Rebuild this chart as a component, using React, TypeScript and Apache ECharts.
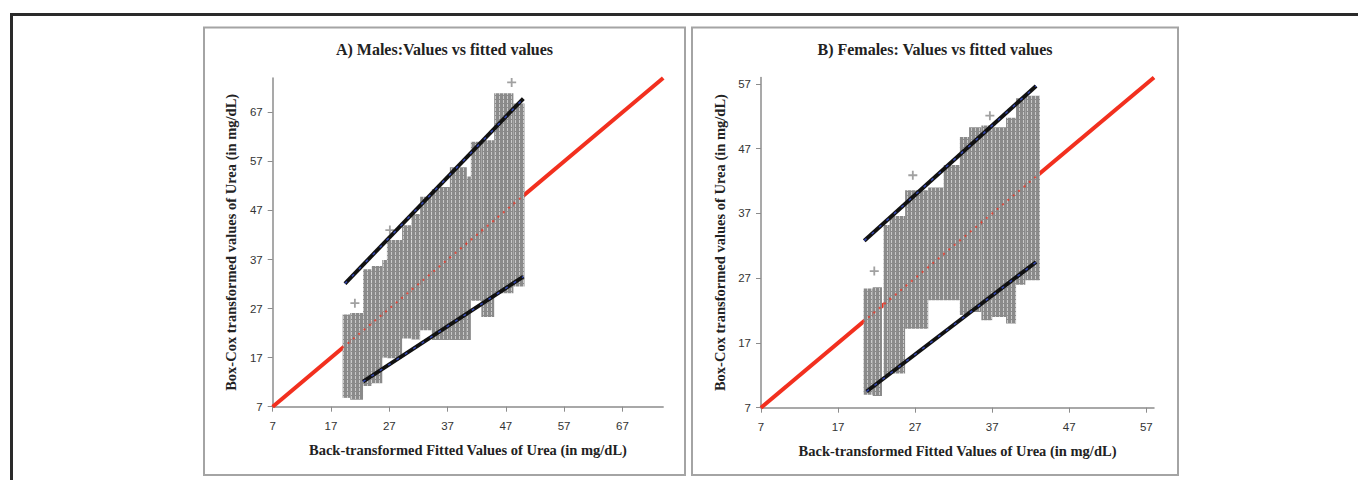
import React, { useEffect, useRef } from "react";
import * as echarts from "echarts";

// ---------- data ----------
const maleTitle = "A) Males:Values vs fitted values";
const femaleTitle = "B) Females: Values vs fitted values";
const xName = "Back-transformed Fitted Values of Urea (in mg/dL)";
const yName = "Box-Cox transformed values of Urea (in mg/dL)";

const maleTicks = [7, 17, 27, 37, 47, 57, 67];
const femaleTicks = [7, 17, 27, 37, 47, 57];
const axisMin = 7;
const maleAxisMax = 74;
const femaleAxisMax = 58;

// identity line y = x
const maleIdentity = [[7, 7], [74, 74]];
const femaleIdentity = [[7, 7], [58, 58]];

// observed-value columns: [fitted from, fitted to, lowest value, highest value]
const maleColumns = [
  [19.0, 20.3, 8.8, 25.8],
  [20.3, 22.5, 8.4, 26.1],
  [22.5, 24.0, 11.2, 35.0],
  [24.0, 25.8, 11.8, 35.7],
  [25.8, 26.6, 17.0, 36.9],
  [26.6, 29.2, 16.9, 41.0],
  [29.2, 30.8, 20.9, 44.0],
  [30.8, 32.3, 20.7, 46.3],
  [32.3, 34.3, 22.6, 49.8],
  [34.3, 35.7, 20.6, 51.3],
  [35.7, 37.4, 20.6, 51.8],
  [37.4, 40.3, 20.6, 55.8],
  [40.3, 41.0, 20.6, 53.9],
  [41.0, 42.8, 28.6, 61.0],
  [42.8, 45.0, 25.3, 61.3],
  [45.0, 48.3, 30.1, 70.9],
  [48.3, 50.2, 31.5, 68.8],
];
const femaleColumns = [
  [20.3, 21.5, 9.0, 25.4],
  [21.5, 22.7, 8.8, 25.6],
  [22.9, 23.7, 12.0, 35.2],
  [23.7, 25.7, 12.3, 36.6],
  [25.7, 28.7, 19.2, 40.6],
  [28.7, 30.7, 23.6, 41.0],
  [30.7, 32.8, 23.6, 44.5],
  [32.8, 34.0, 21.3, 48.8],
  [34.0, 35.6, 21.8, 50.3],
  [35.6, 37.0, 20.5, 50.6],
  [37.0, 38.8, 21.0, 50.3],
  [38.8, 40.1, 20.0, 51.8],
  [40.1, 41.3, 26.0, 54.8],
  [41.3, 43.2, 26.7, 55.2],
];

// prediction bounds
const maleUpper = [[19.4, 32.1], [50.0, 69.8]];
const maleLower = [[22.5, 12.1], [50.0, 33.5]];
const femaleUpper = [[20.4, 32.8], [42.7, 56.7]];
const femaleLower = [[20.7, 9.5], [42.7, 29.5]];

// isolated points
const maleOutliers = [[21.1, 28.1], [27.1, 43.0], [48.0, 73.1]];
const femaleOutliers = [[21.7, 28.1], [26.7, 42.9], [36.7, 52.1]];

// ---------- styling ----------
const GRAY = "#8a8a8a";
const RED = "#f2301f";
const AXIS = "#8c8c8c";
const PLUS =
  "path://M4,0 L6,0 L6,4 L10,4 L10,6 L6,6 L6,10 L4,10 L4,6 L0,6 L0,4 L4,4 Z";

function xAxisCfg(gridIndex: number, max: number, ticks: number[]) {
  return {
    type: "value",
    gridIndex,
    min: axisMin,
    max,
    name: xName,
    nameLocation: "middle",
    nameGap: 36,
    nameTextStyle: {
      fontFamily: "Liberation Serif",
      fontWeight: "bold",
      fontSize: 14.5,
      color: "#222",
    },
    axisLine: { show: true, onZero: false, lineStyle: { color: AXIS, width: 1.5 } },
    axisTick: {
      show: true,
      length: 5,
      customValues: ticks,
      lineStyle: { color: AXIS, width: 1 },
    },
    axisLabel: {
      customValues: ticks,
      margin: 13,
      fontSize: 11.5,
      fontFamily: "Liberation Sans",
      color: "#333",
    },
    splitLine: { show: false },
  };
}

function yAxisCfg(gridIndex: number, max: number, ticks: number[]) {
  return {
    type: "value",
    gridIndex,
    min: axisMin,
    max,
    name: yName,
    nameLocation: "middle",
    nameGap: 34,
    nameTextStyle: {
      fontFamily: "Liberation Serif",
      fontWeight: "bold",
      fontSize: 14.5,
      color: "#222",
    },
    axisLine: { show: true, onZero: false, lineStyle: { color: AXIS, width: 1.5 } },
    axisTick: {
      show: true,
      length: 5,
      customValues: ticks,
      lineStyle: { color: AXIS, width: 1 },
    },
    axisLabel: {
      customValues: ticks,
      margin: 10,
      fontSize: 11.5,
      fontFamily: "Liberation Sans",
      color: "#333",
    },
    splitLine: { show: false },
  };
}

function panelSeries(
  idx: number,
  identity: number[][],
  columns: number[][],
  upper: number[][],
  lower: number[][],
  outliers: number[][],
  fill: any
) {
  const common = { xAxisIndex: idx, yAxisIndex: idx, silent: true };
  const boundLine = (data: number[][]) => [
    {
      ...common,
      type: "line",
      data,
      symbol: "none",
      z: 5,
      lineStyle: { color: "#111", width: 4 },
    },
    {
      ...common,
      type: "line",
      data,
      symbol: "none",
      z: 6,
      lineStyle: { color: "#3346b0", width: 1.5, type: [3, 7] },
    },
  ];
  return [
    {
      ...common,
      type: "line",
      data: identity,
      symbol: "none",
      z: 1,
      lineStyle: { color: RED, width: 4 },
    },
    {
      ...common,
      type: "custom",
      z: 2,
      data: columns,
      encode: { x: [0, 1], y: [2, 3] },
      renderItem: (params: any, api: any) => {
        const p0 = api.coord([api.value(0), api.value(3)]);
        const p1 = api.coord([api.value(1), api.value(2)]);
        return {
          type: "rect",
          shape: { x: p0[0], y: p0[1], width: p1[0] - p0[0], height: p1[1] - p0[1] },
          style: { fill },
        };
      },
    },
    {
      ...common,
      type: "line",
      data: identity,
      symbol: "none",
      z: 3,
      lineStyle: { color: RED, width: 2, type: [2, 5], opacity: 0.75 },
    },
    {
      ...common,
      type: "scatter",
      data: outliers,
      symbol: PLUS,
      symbolSize: 9,
      z: 4,
      itemStyle: { color: GRAY },
    },
    ...boundLine(upper),
    ...boundLine(lower),
  ];
}

function makeTexture(): any {
  try {
    const c = document.createElement("canvas");
    c.width = 4;
    c.height = 4;
    const ctx = c.getContext("2d");
    if (!ctx) return GRAY;
    ctx.fillStyle = GRAY;
    ctx.fillRect(0, 0, 4, 4);
    ctx.fillStyle = "#c9c9c9";
    ctx.fillRect(3, 0, 1, 3);
    return { image: c, repeat: "repeat" };
  } catch (e) {
    return GRAY;
  }
}

export default function App() {
  const ref = useRef<HTMLDivElement>(null);

  useEffect(() => {
    if (!ref.current) return;
    const chart = echarts.init(ref.current, null, { renderer: "svg" });
    const fill = makeTexture();
    const titleStyle = {
      fontFamily: "Liberation Serif",
      fontWeight: "bold",
      fontSize: 16,
      color: "#222",
    };
    chart.setOption({
      animation: false,
      backgroundColor: "#ffffff",
      title: [
        { text: maleTitle, left: 444.5, top: 41, textAlign: "center", padding: 0, textStyle: titleStyle },
        { text: femaleTitle, left: 935, top: 41, textAlign: "center", padding: 0, textStyle: titleStyle },
      ],
      grid: [
        { left: 272.7, top: 78, width: 390.5, height: 328.7 },
        { left: 761, top: 77.5, width: 393, height: 330.2 },
      ],
      xAxis: [
        xAxisCfg(0, maleAxisMax, maleTicks),
        xAxisCfg(1, femaleAxisMax, femaleTicks),
      ],
      yAxis: [
        yAxisCfg(0, maleAxisMax, maleTicks),
        yAxisCfg(1, femaleAxisMax, femaleTicks),
      ],
      graphic: [
        {
          type: "polyline",
          silent: true,
          shape: { points: [[11.5, 490], [11.5, 14.5], [1370, 14.5]] },
          style: { stroke: "#2a2a2a", lineWidth: 3, fill: null },
        },
        {
          type: "rect",
          silent: true,
          shape: { x: 204, y: 27.5, width: 481, height: 447.5 },
          style: { stroke: "#a4a4a4", lineWidth: 2, fill: null },
        },
        {
          type: "rect",
          silent: true,
          shape: { x: 692, y: 27.5, width: 486, height: 447.5 },
          style: { stroke: "#a4a4a4", lineWidth: 2, fill: null },
        },
      ],
      series: [
        ...panelSeries(0, maleIdentity, maleColumns, maleUpper, maleLower, maleOutliers, fill),
        ...panelSeries(1, femaleIdentity, femaleColumns, femaleUpper, femaleLower, femaleOutliers, fill),
      ],
    });
    return () => chart.dispose();
  }, []);

  return (
    <div
      ref={ref}
      style={{ position: "absolute", left: 0, top: 0, width: 1358, height: 480 }}
    />
  );
}
